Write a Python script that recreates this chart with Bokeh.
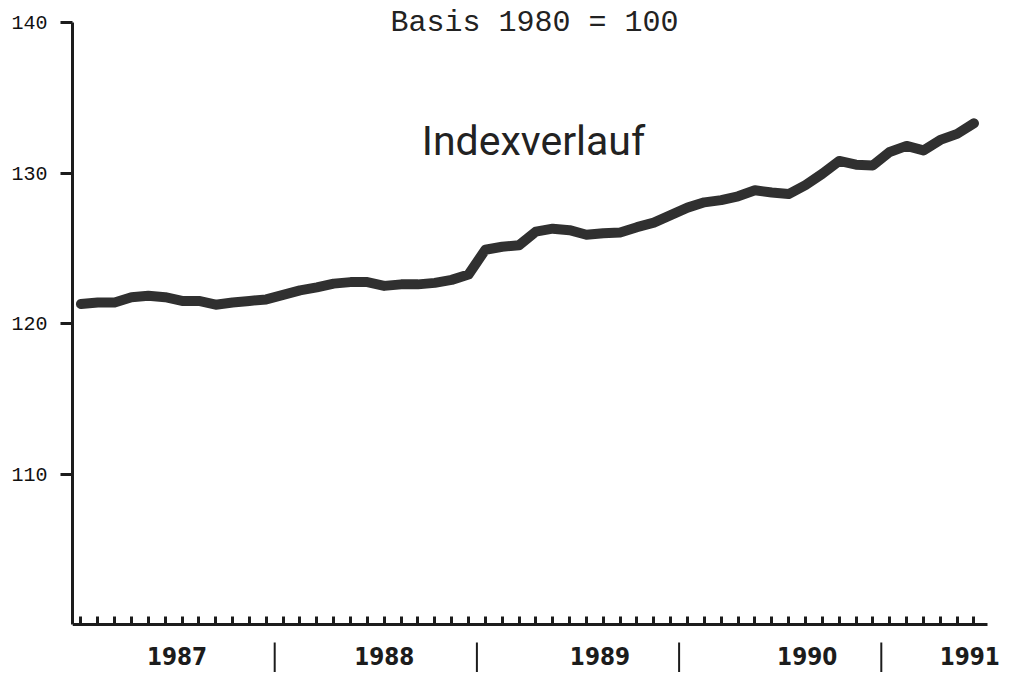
from bokeh.plotting import figure
from bokeh.models import Range1d, LinearAxis, FixedTicker, Label, ColumnDataSource, CustomJSTickFormatter
from bokeh.core.properties import value
from bokeh.embed import file_html
from bokeh.resources import INLINE

# ---------------- data ----------------
years = ["1987", "1988", "1989", "1990", "1991"]
index_values = [
    121.3, 121.4, 121.4, 121.75, 121.85, 121.75, 121.5, 121.5, 121.25, 121.4, 121.5, 121.6,   # 1987
    121.9, 122.2, 122.4, 122.65, 122.75, 122.75, 122.5, 122.6, 122.6, 122.7, 122.9, 123.25,   # 1988
    124.9, 125.1, 125.2, 126.1, 126.3, 126.2, 125.9, 126.0, 126.05, 126.4, 126.7, 127.2,      # 1989
    127.7, 128.05, 128.2, 128.45, 128.85, 128.7, 128.6, 129.2, 129.95, 130.8, 130.55, 130.5,  # 1990
    131.4, 131.8, 131.5, 132.2, 132.6, 133.3,                                                 # 1991 (Jan-Jun)
]
y_ticks = [110, 120, 130, 140]
title_text = "Basis 1980 = 100"
subtitle_text = "Indexverlauf"

# ---------------- layout constants ----------------
W, H = 1003, 672
LEFT = 72                    # frame left edge (pixels)
Y140_PX = 22                 # pixel row of value 140
PX_PER_UNIT = 15.05          # vertical pixels per index point
PX_PER_MONTH = 16.85         # horizontal pixels per month
y_top = 140 + Y140_PX / PX_PER_UNIT
y_bottom = 140 - (H - Y140_PX) / PX_PER_UNIT
x_right = (W - LEFT) / PX_PER_MONTH
year_label_shift = [0.2, 0.5, 1.3, 1.6, -0.75]   # visual offsets of the year labels (months)


def y_at(px):
    return 140 - (px - Y140_PX) / PX_PER_UNIT


def x_at(px):
    return (px - LEFT) / PX_PER_MONTH


x_months = [i + 0.5 for i in range(len(index_values))]

p = figure(width=W, height=H, output_backend="svg", toolbar_location=None,
           x_range=Range1d(0, x_right), y_range=Range1d(y_bottom, y_top),
           x_axis_type=None, y_axis_type=None,
           min_border_left=LEFT, min_border_top=0, min_border_right=0, min_border_bottom=0)
p.outline_line_color = None
p.background_fill_color = "white"
p.border_fill_color = "white"

ink = "#1c1c1c"

# y axis
yax = LinearAxis(ticker=FixedTicker(ticks=y_ticks), bounds=(100, 140))
yax.axis_line_width = 3
yax.axis_line_color = ink
yax.major_tick_line_width = 3
yax.major_tick_line_color = ink
yax.major_tick_out = 12
yax.major_tick_in = 0
yax.minor_tick_line_color = None
yax.major_label_standoff = 13
yax.major_label_text_font = "Liberation Mono"
yax.major_label_text_font_size = "20px"
yax.major_label_text_color = "#111111"
p.add_layout(yax, "left")

# x axis at y = 100 with monthly ticks
xax = LinearAxis(ticker=FixedTicker(ticks=x_months), fixed_location=100, bounds=(-0.83, 54.3),
                 formatter=CustomJSTickFormatter(code="return ''"))
xax.axis_line_width = 3
xax.axis_line_color = ink
xax.major_tick_line_width = 3
xax.major_tick_line_color = ink
xax.major_tick_in = 8
xax.major_tick_out = 0
xax.minor_tick_line_color = None
xax.major_label_standoff = 0
p.add_layout(xax, "below")

# index line
src = ColumnDataSource(dict(x=x_months, y=index_values))
p.line("x", "y", source=src, line_width=10, line_color="#303030",
       line_join="round", line_cap="round")

# year separators and labels
sep_x = [12 * (i + 1) for i in range(len(years) - 1)]
p.segment(x0=sep_x, x1=sep_x, y0=[y_at(642)] * len(sep_x), y1=[y_bottom] * len(sep_x),
          line_width=2, line_color=ink)
label_x = [12 * i + 6 + s for i, s in enumerate(year_label_shift)]
p.text(x=label_x, y=[y_at(655)] * len(years), text=years,
       text_font=value("DejaVu Sans Condensed, Roboto, sans-serif"), text_font_style="bold",
       text_font_size="24px", text_align="center", text_baseline="middle",
       text_color=ink)

# titles
p.add_layout(Label(x=x_at(534), y=y_at(22),
                   text=title_text, text_font="Liberation Mono", text_font_size="30px",
                   text_align="center", text_baseline="alphabetic", text_color="#222222"))
p.add_layout(Label(x=x_at(533), y=y_at(140),
                   text=subtitle_text, text_font="Roboto", text_font_size="41px",
                   text_align="center", text_baseline="alphabetic", text_color="#222222"))

p.xgrid.visible = False
p.ygrid.visible = False

open("out.html", "w").write(file_html(p, INLINE))
